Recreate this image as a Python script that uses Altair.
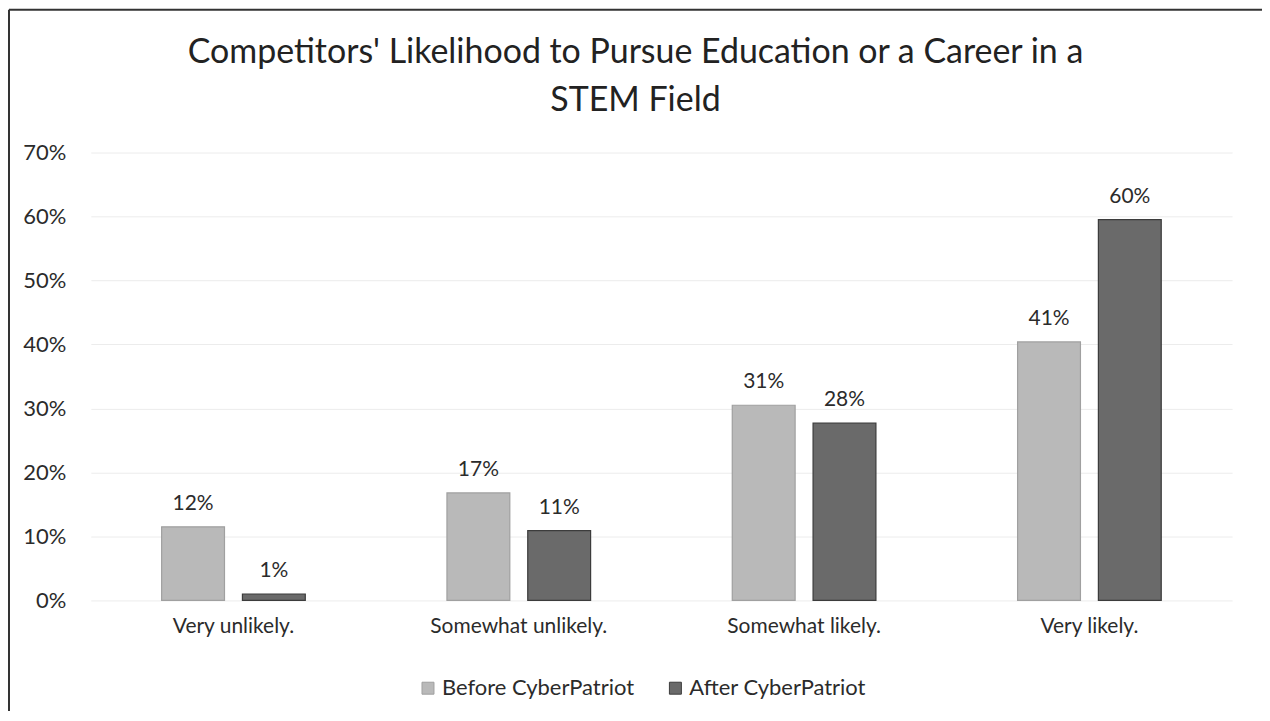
import altair as alt
import pandas as pd

categories = ["Very unlikely.", "Somewhat unlikely.", "Somewhat likely.", "Very likely."]
series = ["Before CyberPatriot", "After CyberPatriot"]
before_values = [0.115, 0.168, 0.305, 0.404]
after_values = [0.010, 0.109, 0.277, 0.595]
before_labels = ["12%", "17%", "31%", "41%"]
after_labels = ["1%", "11%", "28%", "60%"]
y_ticks = [0, 0.1, 0.2, 0.3, 0.4, 0.5, 0.6, 0.7]

rows = []
for c, v, l in zip(categories, before_values, before_labels):
    rows.append({"category": c, "series": series[0], "value": v, "label": l})
for c, v, l in zip(categories, after_values, after_labels):
    rows.append({"category": c, "series": series[1], "value": v, "label": l})
df = pd.DataFrame(rows)

FONT = "Lato"
TXT = "#2b2b2b"

x_enc = alt.X("category:N", sort=categories, title=None,
              scale=alt.Scale(paddingInner=0.4965, paddingOuter=0.24825),
              axis=alt.Axis(labelAngle=0, labelFontSize=21, labelColor=TXT,
                            labelFont=FONT, labelPadding=15, domain=False, ticks=False))
xo_enc = alt.XOffset("series:N", sort=series,
                     scale=alt.Scale(paddingInner=0.222, paddingOuter=0))

bars = alt.Chart(df).mark_bar(strokeWidth=1.2).encode(
    x=x_enc,
    xOffset=xo_enc,
    y=alt.Y("value:Q", title=None,
            scale=alt.Scale(domain=[0, 0.7], nice=False),
            axis=alt.Axis(values=y_ticks, format=".0%", labelFontSize=22,
                          labelColor=TXT, labelFont=FONT, labelPadding=25,
                          domain=False, ticks=False, gridColor="#ececec",
                          gridWidth=1)),
    color=alt.Color("series:N", sort=series,
                    scale=alt.Scale(domain=series, range=["#b9b9b9", "#6a6a6a"]),
                    legend=alt.Legend(title=None, orient="none", direction="horizontal",
                                      legendX=327, legendY=526, symbolType="square",
                                      symbolSize=144, labelFontSize=22, labelFont=FONT,
                                      labelColor=TXT, columnPadding=30, labelOffset=3,
                                      labelLimit=400, symbolStrokeWidth=1)),
    stroke=alt.Stroke("series:N", sort=series,
                      scale=alt.Scale(domain=series, range=["#a0a0a0", "#3c3c3c"]),
                      legend=None),
)

text = alt.Chart(df).mark_text(baseline="bottom", dy=-13, fontSize=21, font=FONT,
                               color=TXT).encode(
    x=alt.X("category:N", sort=categories),
    xOffset=xo_enc,
    y=alt.Y("value:Q"),
    text="label:N",
)

frame = pd.DataFrame({"k": [0]})
left_line = alt.Chart(frame).mark_rule(color="#333333", strokeWidth=2).encode(
    x=alt.value(-82), y=alt.value(-143), y2=alt.value(580))
top_line = alt.Chart(frame).mark_rule(color="#333333", strokeWidth=2).encode(
    x=alt.value(-82), x2=alt.value(1175), y=alt.value(-143))
right_line = alt.Chart(frame).mark_rule(color="#333333", strokeWidth=2).encode(
    x=alt.value(1175), y=alt.value(-143), y2=alt.value(580))

chart = alt.layer(bars, text, left_line, top_line, right_line).properties(
    width=1144, height=449,
    title=alt.Title(["Competitors' Likelihood to Pursue Education or a Career in a",
                     "STEM Field"],
                    fontSize=34, font=FONT, fontWeight="normal", color="#222222",
                    anchor="middle", dx=-26, offset=-109, lineHeight=48),
    padding={"left": 83, "top": 144, "right": 30, "bottom": 110},
    autosize=alt.AutoSizeParams(type="none"),
    background="white",
).configure_view(stroke=None)

chart.save("out.html", embed_options={"renderer": "svg", "actions": False})
